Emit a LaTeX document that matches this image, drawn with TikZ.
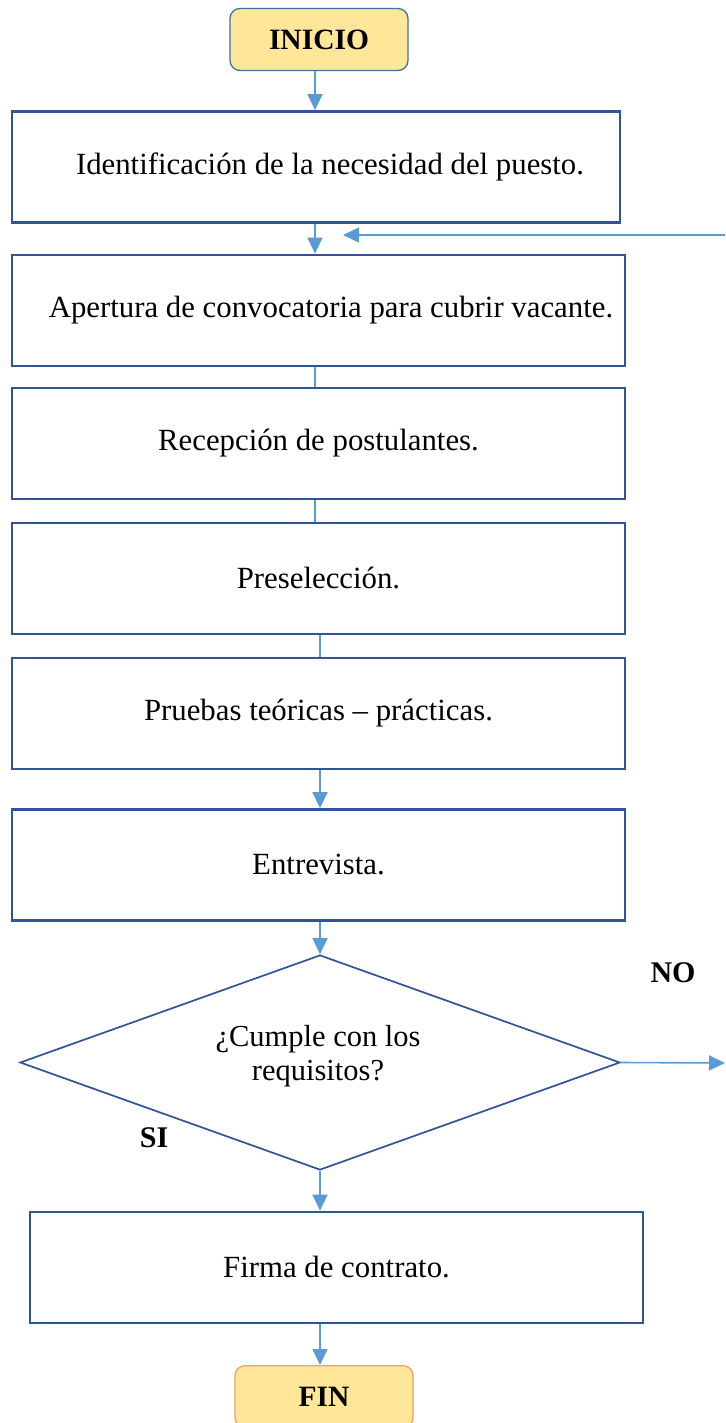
\documentclass[tikz,border=0pt]{standalone}
\usepackage{fontspec}
\setmainfont{Liberation Serif}
\usetikzlibrary{arrows.meta,shapes.geometric}
\definecolor{boxblue}{HTML}{2F5597}
\definecolor{linkblue}{HTML}{5B9BD5}
\definecolor{termfill}{HTML}{FFE699}
\definecolor{termblue}{HTML}{41719C}
\definecolor{termorange}{HTML}{F4A062}
\tikzset{
  stepbox/.style={draw=boxblue,line width=2.8pt,fill=white,minimum width=#1,minimum height=111pt,inner sep=0pt,font=\fontsize{30.8}{34}\selectfont},
  terminal/.style={draw=#1,line width=1.3pt,fill=termfill,rounded corners=10pt,minimum width=178pt,minimum height=62pt,inner sep=0pt,font=\fontsize{29.5}{33}\selectfont\bfseries},
  link/.style={draw=linkblue,line width=1.6pt},
  arrowlink/.style={link,-{Triangle[length=16pt,width=15pt]}},
  decision/.style={diamond,draw=boxblue,line width=1.7pt,fill=white,minimum width=600pt,minimum height=215pt,aspect=2.79,inner sep=0pt,align=center},
  dectxt/.style={font=\fontsize{30.5}{34}\selectfont,align=center,inner sep=0pt},
  lbl/.style={font=\fontsize{30}{34}\selectfont\bfseries,inner sep=0pt}
}
\begin{document}
\begin{tikzpicture}[x=1pt,y=-1pt]
\useasboundingbox (0,0) rectangle (725,1423);
\node[terminal=termblue] (inicio) at (319,39.5) {INICIO};
\node[stepbox=608pt] (b1) at (316,167) {\hspace*{28pt}Identificación de la necesidad del puesto.};
\node[stepbox=613pt] (b2) at (318.5,310.5) {\hspace*{25pt}Apertura de convocatoria para cubrir vacante.};
\node[stepbox=613pt] (b3) at (318.5,443.5) {Recepción de postulantes.};
\node[stepbox=613pt] (b4) at (318.5,578.5) {Preselección.};
\node[stepbox=613pt] (b5) at (318.5,713.5) {Pruebas teóricas – prácticas.};
\node[stepbox=613pt] (b6) at (318.5,865) {Entrevista.};
\node[decision] (dec) at (320,1062.5) {};
\node[dectxt] (dectext) at (318,1056) {¿Cumple con los\\requisitos?};
\node[stepbox=613pt] (b7) at (336.5,1267.5) {Firma de contrato.};
\node[terminal=termorange,anchor=north] (fin) at (324,1365) {FIN};
\node[lbl] (no) at (673,973) {NO};
\node[lbl] (si) at (154,1138) {SI};
\coordinate (fbstart) at (725,235);
\coordinate (fbend) at (343,235);
\coordinate (noend) at (725,1063);
\draw[arrowlink] (inicio.south -| 315,0) -- (b1.north -| 315,0);
\draw[arrowlink] (b1.south -| 315,0) -- (b2.north -| 315,0);
\draw[arrowlink] (fbstart) -- (fbend);
\draw[link] (b2.south -| 315,0) -- (b3.north -| 315,0);
\draw[link] (b3.south -| 315,0) -- (b4.north -| 315,0);
\draw[link] (b4.south -| 320,0) -- (b5.north -| 320,0);
\draw[arrowlink] (b5.south -| 320,0) -- (b6.north -| 320,0);
\draw[arrowlink] (b6.south -| 320,0) -- (dec.north);
\draw[arrowlink] (dec.east) -- (noend);
\draw[arrowlink] (dec.south) -- (b7.north -| 320,0);
\draw[arrowlink] (b7.south -| 320,0) -- (fin.north -| 320,0);
\end{tikzpicture}
\end{document}
